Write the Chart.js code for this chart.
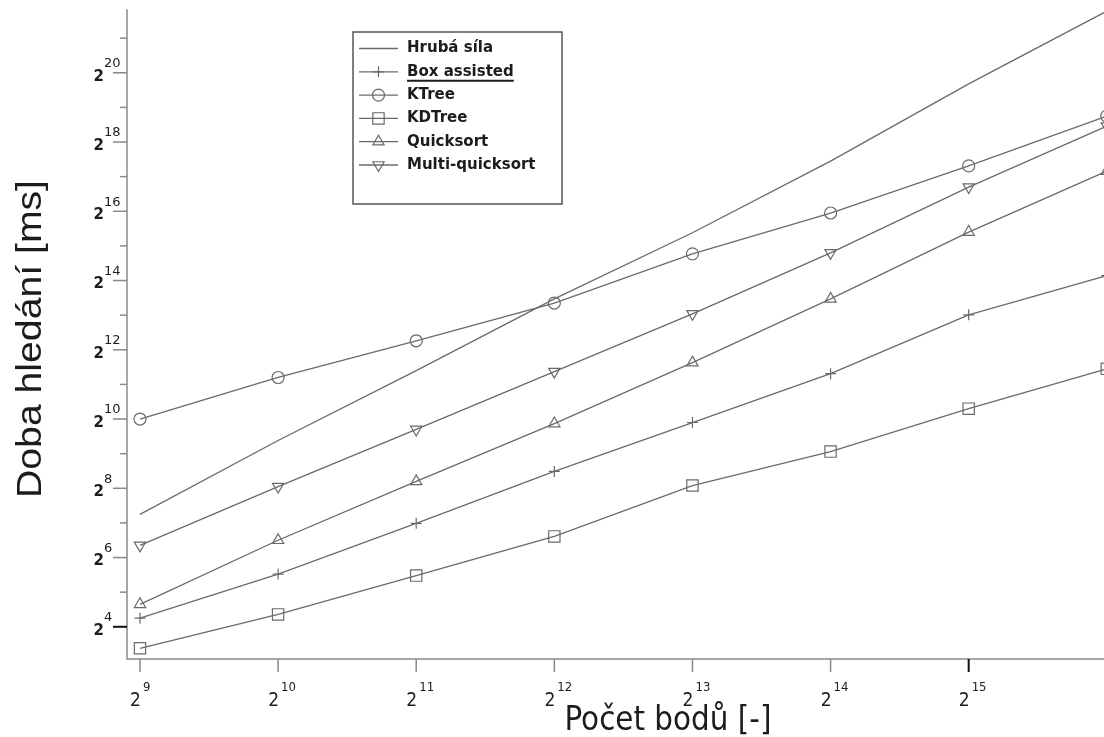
<!DOCTYPE html>
<html>
<head>
<meta charset="utf-8">
<script src="https://cdn.jsdelivr.net/npm/chart.js@4"></script>
<style>
html, body { margin: 0; padding: 0; background: #fff; overflow: hidden; }
#wrap { width: 1104px; height: 737px; overflow: hidden; }
canvas { display: block; }
</style>
</head>
<body>
<div id="wrap"><canvas id="myChart" width="1116" height="737"></canvas></div>
<script>
// Počet bodů (x) and search times in ms (y)
const pointCounts = [512, 1024, 2048, 4096, 8192, 16384, 32768, 65536];
const bruteForce = [152, 666, 2702, 11346, 42634, 179050, 839950, 3601000];
const boxAssisted = [19, 46, 127, 359, 955, 2539, 8249, 18056];
const kTree = [1024, 2353, 4905, 10442, 27940, 63305, 162490, 440870];
const kdTree = [10.4, 20.5, 44.6, 97.7, 270.6, 533.8, 1260.6, 2797.6];
const quicksort = [25.1, 90.5, 294, 935.8, 3169.5, 11346, 43238, 146450];
const multiQuicksort = [81.6, 265, 831.7, 2647, 8422, 28526, 106463, 360580];

const seriesNames = ['Hrubá síla', 'Box assisted', 'KTree', 'KDTree', 'Quicksort', 'Multi-quicksort'];

// tick powers of two
const xTickPowers = [9, 10, 11, 12, 13, 14, 15];
const yMajorPowers = [4, 6, 8, 10, 12, 14, 16, 18, 20];
const yMinorPowers = [5, 7, 9, 11, 13, 15, 17, 19, 21];

const xTitle = 'Počet bodů [-]';
const yTitle = 'Doba hledání [ms]';

const lineColor = '#6a6a6a';
const axisColor = '#8a8a8a';
const textColor = '#1c1c1c';

function toPoints(values) {
    return values.map((v, i) => ({ x: pointCounts[i], y: v }));
}

function series(label, values, style) {
    return Object.assign({
        label: label,
        data: toPoints(values),
        borderColor: lineColor,
        borderWidth: 1.3,
        pointBorderColor: lineColor,
        pointBackgroundColor: 'rgba(0,0,0,0)',
        pointBorderWidth: 1.2,
        pointRotation: 0,
        tension: 0,
        fill: false,
        clip: false
    }, style);
}

function fittedText(ctx, text, cx, cy, width, font, angle) {
    ctx.save();
    ctx.translate(cx, cy);
    ctx.rotate(angle);
    ctx.font = font;
    const w = ctx.measureText(text).width;
    ctx.scale(width / w, 1);
    ctx.textAlign = 'center';
    ctx.textBaseline = 'middle';
    ctx.fillText(text, 0, 0);
    ctx.restore();
}

// axes, power-of-two labels, titles and the boxed legend
const decorPlugin = {
    id: 'decor',
    afterDraw(chart) {
        const ctx = chart.ctx;
        const xs = chart.scales.x;
        const ys = chart.scales.y;
        const area = chart.chartArea;

        ctx.save();
        ctx.lineCap = 'butt';

        // axis lines
        ctx.strokeStyle = axisColor;
        ctx.lineWidth = 1.5;
        ctx.beginPath();
        ctx.moveTo(area.left, area.top);
        ctx.lineTo(area.left, area.bottom);
        ctx.lineTo(chart.width, area.bottom);
        ctx.stroke();

        // y ticks
        yMajorPowers.forEach(p => {
            const y = ys.getPixelForValue(Math.pow(2, p));
            const dark = p === 4;
            ctx.strokeStyle = dark ? '#111' : axisColor;
            ctx.lineWidth = dark ? 2 : 1.5;
            ctx.beginPath();
            ctx.moveTo(area.left - 14, y);
            ctx.lineTo(area.left, y);
            ctx.stroke();

            ctx.fillStyle = textColor;
            ctx.font = 'bold 15px "DejaVu Sans"';
            ctx.textAlign = 'right';
            ctx.textBaseline = 'middle';
            ctx.fillText('2', 104, y + 4);
            ctx.font = '13px "DejaVu Sans"';
            ctx.textAlign = 'left';
            ctx.fillText(String(p), 104, y - 9);
        });
        yMinorPowers.forEach(p => {
            const y = ys.getPixelForValue(Math.pow(2, p));
            if (y < area.top) return;
            ctx.strokeStyle = axisColor;
            ctx.lineWidth = 1.5;
            ctx.beginPath();
            ctx.moveTo(area.left - 7, y);
            ctx.lineTo(area.left, y);
            ctx.stroke();
        });

        // x ticks
        xTickPowers.forEach(p => {
            const x = xs.getPixelForValue(Math.pow(2, p));
            const dark = p === 15;
            ctx.strokeStyle = dark ? '#111' : axisColor;
            ctx.lineWidth = dark ? 2 : 1.5;
            ctx.beginPath();
            ctx.moveTo(x, area.bottom);
            ctx.lineTo(x, area.bottom + 13);
            ctx.stroke();

            ctx.fillStyle = textColor;
            ctx.font = '19px "Liberation Sans Narrow", "DejaVu Sans Condensed"';
            ctx.textAlign = 'right';
            ctx.textBaseline = 'middle';
            ctx.fillText('2', x + 1, 701);
            ctx.font = '13px "Liberation Sans Narrow", "DejaVu Sans Condensed"';
            ctx.textAlign = 'left';
            ctx.fillText(String(p), x + 3, 688);
        });

        // titles
        ctx.fillStyle = textColor;
        fittedText(ctx, yTitle, 31, 339, 318, '35px "Liberation Sans"', -Math.PI / 2);
        fittedText(ctx, xTitle, 668, 721, 207, '33px "Liberation Sans Narrow", "DejaVu Sans Condensed"', 0);

        // legend
        const box = { left: 353, top: 32, right: 562, bottom: 204 };
        ctx.fillStyle = '#fff';
        ctx.fillRect(box.left, box.top, box.right - box.left, box.bottom - box.top);
        ctx.strokeStyle = '#555';
        ctx.lineWidth = 1.5;
        ctx.strokeRect(box.left, box.top, box.right - box.left, box.bottom - box.top);

        chart.data.datasets.forEach((ds, i) => {
            const y = 48.5 + i * 23.3;
            ctx.strokeStyle = lineColor;
            ctx.lineWidth = 1.3;
            ctx.beginPath();
            ctx.moveTo(359, y);
            ctx.lineTo(398, y);
            ctx.stroke();
            if (ds.pointRadius > 0) {
                ctx.fillStyle = 'rgba(0,0,0,0)';
                ctx.lineWidth = 1.2;
                Chart.helpers.drawPoint(ctx, {
                    pointStyle: ds.pointStyle,
                    rotation: ds.pointRotation || 0,
                    radius: ds.pointRadius,
                    borderWidth: 1.2
                }, 378.5, y);
            }
            ctx.fillStyle = textColor;
            ctx.font = 'bold 15px "DejaVu Sans"';
            ctx.textAlign = 'left';
            ctx.textBaseline = 'middle';
            ctx.fillText(ds.label, 407, y);
            if (i === 1) {
                const w = ctx.measureText(ds.label).width;
                ctx.strokeStyle = textColor;
                ctx.lineWidth = 2;
                ctx.beginPath();
                ctx.moveTo(407, y + 9);
                ctx.lineTo(407 + w, y + 9);
                ctx.stroke();
            }
        });

        ctx.restore();
    }
};

const data = {
    datasets: [
        series(seriesNames[0], bruteForce, { pointRadius: 0 }),
        series(seriesNames[1], boxAssisted, { pointStyle: 'cross', pointRadius: 5.5 }),
        series(seriesNames[2], kTree, { pointStyle: 'circle', pointRadius: 6 }),
        series(seriesNames[3], kdTree, { pointStyle: 'rect', pointRadius: 8 }),
        series(seriesNames[4], quicksort, { pointStyle: 'triangle', pointRadius: 6.5 }),
        series(seriesNames[5], multiQuicksort, { pointStyle: 'triangle', pointRadius: 6.5, pointRotation: 180 })
    ]
};

const config = {
    type: 'line',
    data: data,
    options: {
        responsive: false,
        animation: false,
        events: [],
        layout: { padding: { left: 127, top: 8, right: 6, bottom: 78 } },
        plugins: { legend: { display: false }, tooltip: { enabled: false } },
        scales: {
            x: {
                type: 'logarithmic',
                display: false,
                min: Math.pow(2, 8.906),
                max: 65536
            },
            y: {
                type: 'logarithmic',
                display: false,
                min: Math.pow(2, 3.07),
                max: Math.pow(2, 21.836)
            }
        }
    },
    plugins: [decorPlugin]
};

document.addEventListener('DOMContentLoaded', function () {
    new Chart(document.getElementById('myChart'), config);
});
</script>
</body>
</html>
